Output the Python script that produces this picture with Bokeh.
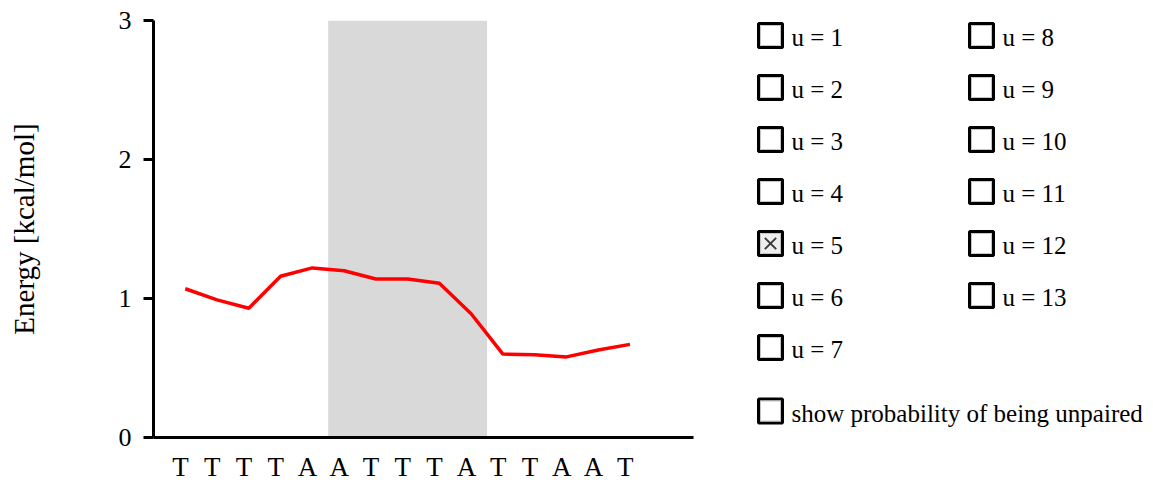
from bokeh.plotting import figure
from bokeh.layouts import row
from bokeh.models import Range1d, FixedTicker, BoxAnnotation, ColumnDataSource
from bokeh.core.properties import value
from bokeh.embed import file_html
from bokeh.resources import INLINE

# Nucleotide sequence and per-position accessibility energy (kcal/mol)
sequence = list("TTTTAATTTATTAAT")
energy = [1.07, 0.99, 0.93, 1.16, 1.22, 1.20, 1.14, 1.14, 1.11, 0.89,
          0.60, 0.595, 0.58, 0.63, 0.67]
y_ticks = [0, 1, 2, 3]

# Window-size selector (u) and the currently highlighted window
window_sizes = list(range(1, 14))
selected_u = 5
window_start = 6          # first nucleotide (1-based) of the highlighted window
show_unpaired = False

FONT = "Liberation Serif"

# shared page geometry (pixels)
HEIGHT = 484
TOP, BOTTOM = 20, 47

positions = list(range(1, len(sequence) + 1))

# ---------------------------------------------------------------- main plot
p = figure(width=740, height=HEIGHT,
           x_range=Range1d(0, len(sequence) + 2), y_range=Range1d(0, 3),
           output_backend="svg", toolbar_location=None,
           min_border_left=153, min_border_right=47,
           min_border_top=TOP, min_border_bottom=BOTTOM)
p.outline_line_color = None
p.xgrid.visible = False
p.ygrid.visible = False

band = BoxAnnotation(left=window_start - 0.5, right=window_start + selected_u - 0.5,
                     fill_color="#d9d9d9", fill_alpha=1.0, line_color=None,
                     level="underlay")
p.add_layout(band)

src = ColumnDataSource(dict(x=positions, y=energy))
p.line("x", "y", source=src, line_color="#ff0000", line_width=3.5)

# y axis
ya = p.yaxis[0]
ya.ticker = FixedTicker(ticks=y_ticks)
ya.minor_tick_line_color = None
ya.major_tick_in = 0
ya.major_tick_out = 10
ya.major_tick_line_width = 3
ya.major_tick_line_color = "black"
ya.axis_line_width = 3
ya.axis_line_color = "black"
ya.major_label_text_font = FONT
ya.major_label_text_font_size = "26px"
ya.major_label_text_color = "black"
ya.major_label_standoff = 12
ya.axis_label = "Energy [kcal/mol]"
ya.axis_label_text_font = FONT
ya.axis_label_text_font_size = "29px"
ya.axis_label_text_font_style = "normal"
ya.axis_label_text_color = "black"
ya.axis_label_standoff = 76

# x axis: nucleotide letters under each position
label_shift = 0.15
x_ticks = [pos - label_shift for pos in positions]
xa = p.xaxis[0]
xa.ticker = FixedTicker(ticks=x_ticks)
xa.major_label_overrides = {t: s for t, s in zip(x_ticks, sequence)}
xa.minor_tick_line_color = None
xa.major_tick_line_color = None
xa.major_tick_in = 0
xa.major_tick_out = 0
xa.axis_line_width = 3
xa.axis_line_color = "black"
xa.major_label_text_font = FONT
xa.major_label_text_font_size = "27px"
xa.major_label_text_color = "black"
xa.major_label_standoff = 14

# ---------------------------------------------------------------- selector panel
# frame spans the same vertical band as the main plot; ranges are in page pixels
leg = figure(width=413, height=HEIGHT,
             x_range=Range1d(740, 1153), y_range=Range1d(HEIGHT - BOTTOM, TOP),
             output_backend="svg", toolbar_location=None,
             x_axis_location=None, y_axis_location=None,
             min_border_left=0, min_border_right=0,
             min_border_top=TOP, min_border_bottom=BOTTOM)
leg.outline_line_color = None
leg.xgrid.visible = False
leg.ygrid.visible = False

col_x = [770, 981]
row_y0, row_step = 35, 52
rows_per_col = 7

bx, by, labels, checked = [], [], [], []
for u in window_sizes:
    c, r = divmod(u - 1, rows_per_col)
    bx.append(col_x[c])
    by.append(row_y0 + r * row_step)
    labels.append(f"u = {u}")
    checked.append(u == selected_u)

# the probability toggle sits below the first column
bx.append(col_x[0])
by.append(410.5)
labels.append("show probability of being unpaired")
checked.append(show_unpaired)

fills = ["#eeeeee" if c else "white" for c in checked]
boxes = ColumnDataSource(dict(x=bx, y=by, fill=fills,
                              tx=[x + 21 for x in bx], ty=[y + 2 for y in by],
                              text=labels))
leg.rect("x", "y", width=24, height=24, source=boxes, fill_color="fill",
         line_color="black", line_width=3)
leg.rect("x", "y", width=20, height=20, source=boxes, fill_alpha=0,
         line_color="#c4c4c4", line_width=1)
leg.text("tx", "ty", text="text", source=boxes, text_font=value(FONT),
         text_font_size="25px", text_baseline="alphabetic", text_align="left",
         text_color="black")

mx = [x for x, c in zip(bx, checked) if c]
my = [y for y, c in zip(by, checked) if c]
leg.scatter(mx, my, marker="x", size=16, line_width=2, line_color="#3c3c3c")

layout = row(p, leg)
open("out.html", "w").write(file_html(layout, INLINE))
